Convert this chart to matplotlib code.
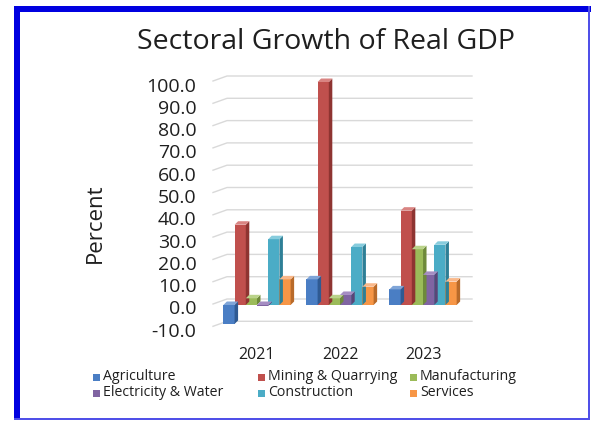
import matplotlib
matplotlib.use("Agg")
import matplotlib.pyplot as plt
from matplotlib.patches import Polygon, Rectangle
from matplotlib.lines import Line2D
from matplotlib.transforms import ScaledTranslation, IdentityTransform
import numpy as np

plt.rcParams['font.family'] = ['Open Sans', 'DejaVu Sans']

# Data
years = ["2021", "2022", "2023"]
sectors = ["Agriculture", "Mining & Quarrying", "Manufacturing",
           "Electricity & Water", "Construction", "Services"]
agriculture = [-8.5, 11.5, 7.0]
mining = [36.0, 100.0, 42.3]
manufacturing = [3.0, 3.0, 25.0]
electricity = [-0.5, 4.5, 13.5]
construction = [29.5, 26.0, 27.0]
services = [11.5, 8.2, 10.5]
series = [agriculture, mining, manufacturing, electricity, construction, services]
y_ticks = [-10, 0, 10, 20, 30, 40, 50, 60, 70, 80, 90, 100]

front_colors = ["#4A7EC4", "#C0504D", "#9BBB59", "#8064A2", "#4BACC6", "#F79646"]
side_colors = ["#2F5A92", "#8E3431", "#6E8A3A", "#5A4577", "#2E7F96", "#B86A2A"]
top_colors = ["#7FA5D8", "#D98482", "#BAD38A", "#A58DC2", "#87CCDD", "#FAB88A"]

W, H = 591, 422
fig = plt.figure(figsize=(W / 100, H / 100), dpi=100)
fig.patch.set_facecolor("white")

ax = fig.add_axes([213 / W, 1 - 327.3 / H, (472 - 213) / W, (327.3 - 82) / H])
ax.set_xlim(-0.53, 2.59)
ax.set_ylim(-10, 100)
ax.set_facecolor("none")
for s in ax.spines.values():
    s.set_visible(False)

x = np.arange(len(years))
bw = 0.135
depth = (3.5, 3.5)  # extrusion of the faux-3D bars, in pixels

fig.canvas.draw()

# Back-wall gridlines with a short side-wall segment
for v in y_ticks:
    x0, yv = ax.transData.transform((ax.get_xlim()[0], v))
    x1, _ = ax.transData.transform((ax.get_xlim()[1], v))
    line = Line2D([x0, x0 + 14, x1], [yv + 1, yv + 6, yv + 6],
                  transform=IdentityTransform(), color="#D9D9D9", lw=1.0, zorder=0)
    fig.add_artist(line)

# Bars: front faces through ax.bar, then side and top faces from each rectangle
for i, vals in enumerate(series):
    bars = ax.bar(x + (i - 2.5) * bw, vals, width=bw, color=front_colors[i],
                  edgecolor="none", zorder=3 + i * 0.01)
    for b in bars:
        xa = b.get_x()
        xb = xa + b.get_width()
        y_lo = min(b.get_y(), b.get_y() + b.get_height())
        y_hi = max(b.get_y(), b.get_y() + b.get_height())
        (px0, py0) = ax.transData.transform((xa, y_lo))
        (px1, py1) = ax.transData.transform((xb, y_hi))
        dx, dy = depth
        side = Polygon([(px1, py0), (px1 + dx, py0 + dy), (px1 + dx, py1 + dy), (px1, py1)],
                       closed=True, transform=IdentityTransform(),
                       facecolor=side_colors[i], edgecolor="none", zorder=2.9 + i * 0.01)
        top = Polygon([(px0, py1), (px1, py1), (px1 + dx, py1 + dy), (px0 + dx, py1 + dy)],
                      closed=True, transform=IdentityTransform(),
                      facecolor=top_colors[i], edgecolor="none", zorder=2.9 + i * 0.01)
        fig.add_artist(side)
        fig.add_artist(top)

ax.set_yticks(y_ticks)
ax.set_yticklabels([f"{v:.1f}" for v in y_ticks])
ax.set_xticks(x)
ax.set_xticklabels(years)
ax.tick_params(axis="y", length=0, pad=12, labelsize=14, labelcolor="#1F1F1F")
ax.tick_params(axis="x", length=0, pad=14, labelsize=11.5, labelcolor="#1F1F1F")
shift = ScaledTranslation(0, -2.5 / 100, fig.dpi_scale_trans)
for lbl in ax.get_yticklabels():
    lbl.set_transform(lbl.get_transform() + shift)

fig.text(95 / W, 1 - 223 / H, "Percent", rotation=90, ha="center", va="center",
         fontsize=16, color="#1F1F1F")
fig.text(326 / W, 1 - 42 / H, "Sectoral Growth of Real GDP", ha="center", va="center",
         fontsize=20.5, color="#1F1F1F")

# Legend laid out in two rows of three
leg_cols = [93, 258, 410]
leg_rows = [377, 393]
for i, name in enumerate(sectors):
    cx = leg_cols[i % 3]
    cy = leg_rows[i // 3]
    fig.add_artist(Rectangle((cx / W, 1 - (cy + 3.5) / H), 7 / W, 7 / H,
                             transform=fig.transFigure, facecolor=front_colors[i],
                             edgecolor="none"))
    fig.text((cx + 10) / W, 1 - cy / H, name, ha="left", va="center",
             fontsize=10.2, color="#1F1F1F")

# Blue frame
blue = "#0000E0"
fig.add_artist(Rectangle((14 / W, 1 - 420 / H), 6 / W, (420 - 6) / H,
                         transform=fig.transFigure, facecolor=blue, edgecolor="none"))
fig.add_artist(Rectangle((14 / W, 1 - 12 / H), (W - 14) / W, 6 / H,
                         transform=fig.transFigure, facecolor=blue, edgecolor="none"))
fig.add_artist(Rectangle((588 / W, 1 - 420 / H), 2 / W, (420 - 6) / H,
                         transform=fig.transFigure, facecolor="#5050E8", edgecolor="none"))
fig.add_artist(Rectangle((14 / W, 1 - 420 / H), (590 - 14) / W, 2.5 / H,
                         transform=fig.transFigure, facecolor="#5050E8", edgecolor="none"))

fig.savefig("out.png", dpi=100, facecolor="white")
